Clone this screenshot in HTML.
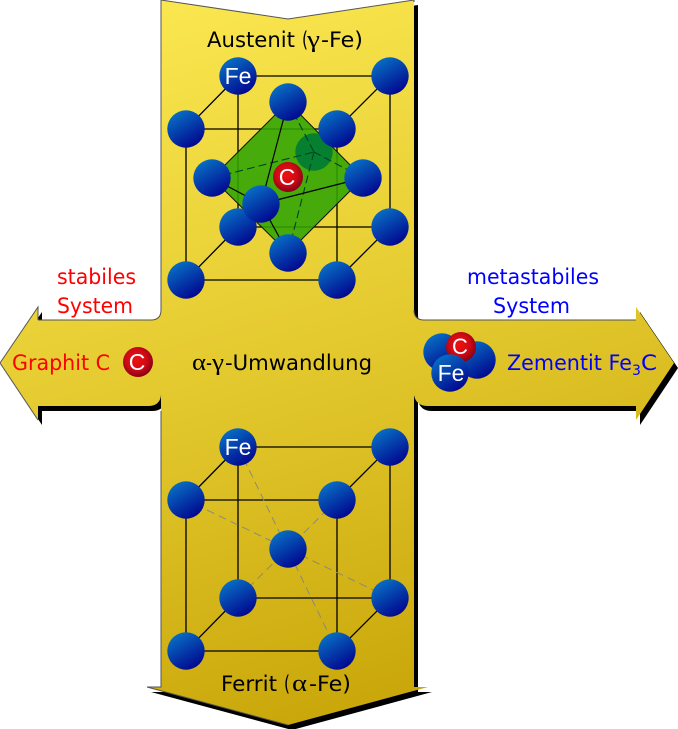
<!DOCTYPE html>
<html><head><meta charset="utf-8"><style>html,body{margin:0;padding:0;background:#fff}svg{display:block}text{font-family:"DejaVu Sans","Liberation Sans",sans-serif;font-size:21px}.g{font-family:"Liberation Serif",serif;font-size:24px}.w{font-family:"Liberation Sans",sans-serif;fill:#fff;text-anchor:middle;font-size:23px}</style></head><body>
<svg xmlns="http://www.w3.org/2000/svg" width="678" height="729" viewBox="0 0 678 729">
<defs>
<linearGradient id="y" gradientUnits="userSpaceOnUse" x1="190" y1="0" x2="400" y2="720"><stop offset="0" stop-color="#fae64f"/><stop offset=".5" stop-color="#e3c92e"/><stop offset="1" stop-color="#c8a508"/></linearGradient>
<linearGradient id="b" x1=".2" y1="0" x2=".8" y2="1"><stop offset="0" stop-color="#0874c6"/><stop offset="1" stop-color="#00008c"/></linearGradient>
<radialGradient id="r" cx=".45" cy=".42" r=".62"><stop offset="0" stop-color="#ee1010"/><stop offset=".55" stop-color="#d00a14"/><stop offset="1" stop-color="#7d0018"/></radialGradient>
<path id="s" d="M161,0L288,19L414,0L414,310Q414,320 424,320L636,320L636,307L674,363L636,420L636,406L428,406Q416,406 414,395L414,687L428,687L288,725L147,687L161,687L161,395Q160,406 148,406L38,406L38,420L0,363L38,307L38,320L151,320Q161,320 161,310Z"/>
<circle id="a" r="18.7" fill="url(#b)"/>
<circle id="c" r="15" fill="url(#r)"/>
</defs>
<use href="#s" x="4" y="5" fill="#000"/>
<use href="#s" fill="url(#y)"/>
<path d="M161,0L288,19L414,0M38,320H151Q161,320 161,310V0M38,320V307L0,363L38,420M161,411V687L147,687L288,725" fill="none" stroke="#555" stroke-width="1"/>
<path d="M414,0V2M636,320H424Q414,320 414,310" fill="none" stroke="#555" stroke-width="1"/>
<g stroke="#000" stroke-width="1.3" fill="none">
<path d="M238,76H390V227H238ZM186,129H337V280H186ZM238,76L186,129M390,76L337,129M238,227L186,280M390,227L337,280"/>
</g>
<path d="M288,102L363,178L288,253L212,178Z" fill="#30a404" fill-opacity=".88" stroke="#111" stroke-width="1"/>
<circle cx="314" cy="152" r="18.7" fill="#068030"/>
<g stroke="#042" stroke-width="1.1" fill="none">
<path d="M288,102L314,152M212,178L314,152M363,178L314,152M288,253L314,152" stroke-dasharray="8 4"/>
</g>
<g stroke="#000" stroke-width="1.2" fill="none">
<path d="M288,102L261,204M212,178L261,204M363,178L261,204M288,253L261,204"/>
</g>
<use href="#a" x="238" y="76"/><use href="#a" x="390" y="76"/><use href="#a" x="186" y="129"/><use href="#a" x="337" y="129"/>
<use href="#a" x="238" y="227"/><use href="#a" x="390" y="227"/><use href="#a" x="186" y="280"/><use href="#a" x="337" y="280"/>
<use href="#a" x="288" y="102"/><use href="#a" x="288" y="253"/><use href="#a" x="212" y="178"/><use href="#a" x="363" y="178"/>
<use href="#c" x="288" y="177"/>
<use href="#a" x="261" y="204"/>
<text class="w" x="287" y="185">C</text>
<text class="w" x="238" y="84">Fe</text>
<g stroke="#000" stroke-width="1.3" fill="none">
<path d="M238,447H390V598H238ZM186,500H337V651H186ZM238,447L186,500M390,447L337,500M238,598L186,651M390,598L337,651"/>
</g>
<g stroke="#8a8a78" stroke-width="1" fill="none" stroke-dasharray="8 5">
<path d="M238,447L337,651M390,598L186,500M337,500L238,598"/>
</g>
<use href="#a" x="238" y="447"/><use href="#a" x="390" y="447"/><use href="#a" x="186" y="500"/><use href="#a" x="337" y="500"/>
<use href="#a" x="288" y="549"/>
<use href="#a" x="238" y="598"/><use href="#a" x="390" y="598"/><use href="#a" x="186" y="651"/><use href="#a" x="337" y="651"/>
<text class="w" x="238" y="455">Fe</text>
<use href="#c" x="138" y="362"/><text class="w" x="137" y="370">C</text>
<use href="#a" x="477" y="360"/><use href="#a" x="442" y="352"/><use href="#c" x="461" y="347"/><use href="#a" x="450" y="373"/>
<text class="w" x="460" y="354" style="font-size:22px">C</text><text class="w" x="451" y="381">Fe</text>
<g fill="#000">
<text x="207" y="47" textLength="88" lengthAdjust="spacingAndGlyphs">Austenit</text>
<text x="302" y="47" textLength="6" lengthAdjust="spacingAndGlyphs">(</text>
<text class="g" x="307" y="47" textLength="13" lengthAdjust="spacingAndGlyphs">γ</text>
<text x="321" y="47" textLength="42" lengthAdjust="spacingAndGlyphs">-Fe)</text>
<text x="221" y="691" textLength="56" lengthAdjust="spacingAndGlyphs">Ferrit</text>
<text x="284" y="691" textLength="6" lengthAdjust="spacingAndGlyphs">(</text>
<text class="g" x="292" y="691" textLength="15" lengthAdjust="spacingAndGlyphs">α</text>
<text x="309" y="691" textLength="42" lengthAdjust="spacingAndGlyphs">-Fe)</text>
<text class="g" x="192" y="370" textLength="14" lengthAdjust="spacingAndGlyphs">α</text>
<text x="206" y="370" textLength="6" lengthAdjust="spacingAndGlyphs">-</text>
<text class="g" x="212" y="370" textLength="12" lengthAdjust="spacingAndGlyphs">γ</text>
<text x="225" y="370" textLength="147" lengthAdjust="spacingAndGlyphs">-Umwandlung</text>
</g>
<g fill="#f00">
<text x="57" y="284" textLength="79" lengthAdjust="spacingAndGlyphs">stabiles</text>
<text x="57" y="313" textLength="76" lengthAdjust="spacingAndGlyphs">System</text>
<text x="12" y="370" textLength="98" lengthAdjust="spacingAndGlyphs">Graphit C</text>
</g>
<g fill="#00f">
<text x="467" y="284" textLength="132" lengthAdjust="spacingAndGlyphs">metastabiles</text>
<text x="493" y="313" textLength="77" lengthAdjust="spacingAndGlyphs">System</text>
<text x="507" y="370" textLength="125" lengthAdjust="spacingAndGlyphs">Zementit Fe</text>
<text x="632" y="375" style="font-size:14px">3</text>
<text x="641" y="370" textLength="16" lengthAdjust="spacingAndGlyphs">C</text>
</g>
</svg>
</body></html>
